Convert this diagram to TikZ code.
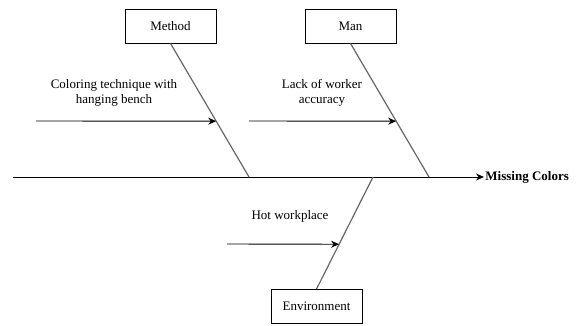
\documentclass[tikz,border=0pt]{standalone}
\usepackage{fontspec}
\setmainfont{Liberation Serif}
\usetikzlibrary{arrows.meta,calc}

\begin{document}
\begin{tikzpicture}[x=1pt,y=-1pt,>={Stealth[length=8pt,width=7pt]},line width=0.9pt,font=\fontsize{13}{15}\selectfont]
		\tikzstyle{cause}=[draw=black,fill=white,minimum width=91pt,minimum height=34pt,inner sep=2pt]
		\tikzstyle{bone}=[draw=black!60,line width=1.2pt]
		\tikzstyle{sub}=[->,draw=black]
		\tikzstyle{lbl}=[align=center,inner sep=0pt]
		\useasboundingbox (0,0) rectangle (582,325);
		% categories
		\node[cause] (M) at (170.5,26) {Method};
		\node[cause] (N) at (350.5,26) {Man};
		\node[cause] (E) at (316.5,306.5) {Environment};
		% spine
		\coordinate (S) at (13,177);
		\node[anchor=west,inner sep=1pt,font=\fontsize{13}{15}\selectfont\bfseries] (P) at (484,177) {Missing Colors};
		\draw[->] (S) -- (P.west);
		% bones
		\coordinate (Mb) at (249,177);
		\coordinate (Nb) at (429,177);
		\coordinate (Eb) at (373,177);
		\draw[bone] (M.south) -- (Mb);
		\draw[bone] (N.south) -- (Nb);
		\draw[bone] (Eb) -- (E.north);
		% causes
		\coordinate (a1) at (36,121);
		\coordinate (a2) at (249,121);
		\coordinate (a3) at (227,244);
		\draw[sub] (a1) -- ($(M.south)!0.582!(Mb)$);
		\draw[sub] (a2) -- ($(N.south)!0.582!(Nb)$);
		\draw[sub] (a3) -- ($(Eb)!0.6!(E.north)$);
		\node[lbl] (t1) at (114,93) {Coloring technique with\\hanging bench};
		\node[lbl] (t2) at (322,93) {Lack of worker\\accuracy};
		\node[lbl] (t3) at (290,216) {Hot workplace};
\end{tikzpicture}
\end{document}
